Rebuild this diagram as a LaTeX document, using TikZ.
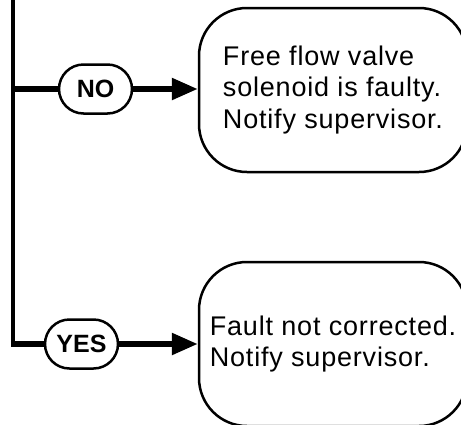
\documentclass[tikz,border=0pt]{standalone}
\usepackage{fontspec}
\setmainfont{Liberation Sans}
\newfontfamily\boxfont[LetterSpace=3]{Liberation Sans}
\usepackage{tikz}
\usetikzlibrary{arrows.meta,positioning,shapes,calc}
\definecolor{ink}{HTML}{000000}
\tikzset{
  pill/.style={draw=ink,fill=white,line width=2.5pt,rounded corners=24.5pt,
               minimum width=73pt,minimum height=49pt,inner sep=0pt,
               font=\bfseries\fontsize{25}{30}\selectfont},
  endbox/.style={draw=ink,fill=white,line width=2.5pt,rounded corners=48pt,
                 minimum width=268pt,minimum height=164pt,inner sep=0pt,
                 align=left,font=\boxfont\fontsize{27}{31.5}\selectfont},
  trunk/.style={draw=ink,line width=4.5pt},
  branch/.style={draw=ink,line width=5.5pt},
  flowarr/.style={-{Triangle[length=26pt,width=21pt]},line width=5.5pt,
                  draw=ink,fill=ink}
}
\begin{document}
\begin{tikzpicture}[x=1pt,y=-1pt]
    \path[use as bounding box] (0,0) rectangle (461,424);
    \clip (0,0) rectangle (461,424);
    \coordinate (top) at (13,-5);
    \node[pill] (no) at (95.5,89) {NO};
    \node[pill] (yes) at (81.5,344) {YES};
    \node[endbox] (faulty) at (333,90)
      {Free flow valve\\solenoid is faulty.\\Notify supervisor.};
    \node[endbox] (notfixed) at (333,344)
      {Fault not corrected.\\Notify supervisor.};

    \draw[trunk,line cap=rect] (top) -- (top |- yes);
    \draw[branch] ($(top |- yes)+(-2.25,0)$) -- (yes);
    \draw[branch] (top |- no) -- (no);
    \draw[flowarr] (no) -- (no -| faulty.west);
    \draw[flowarr] (yes) -- (yes -| notfixed.west);
  \end{tikzpicture}
\end{document}
